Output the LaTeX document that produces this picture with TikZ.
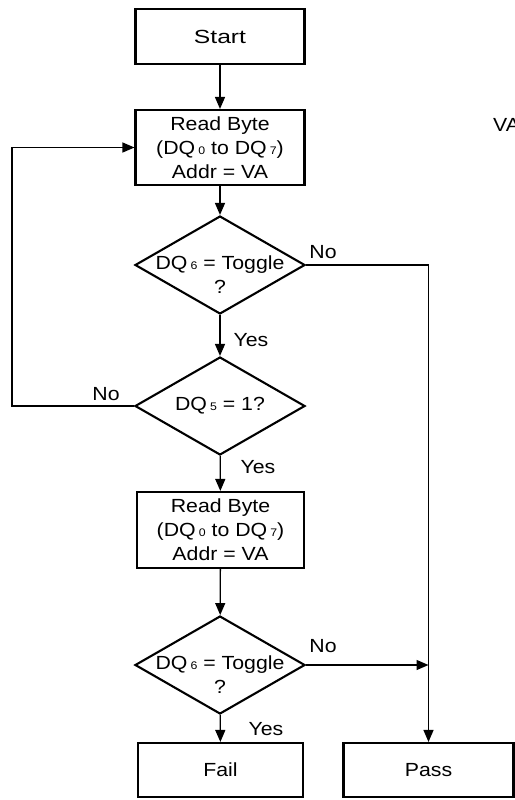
\documentclass[tikz,border=0pt]{standalone}
\usepackage{fontspec}
\setmainfont{Liberation Sans}[FakeStretch=1.12]
\newfontfamily\widefont{Liberation Sans}[FakeStretch=1.3]
\usetikzlibrary{arrows.meta,shapes.geometric}
\newcommand{\dqsub}[1]{\,{\fontsize{11pt}{11pt}\selectfont #1}}
\tikzset{
  box/.style={draw, line width=2.1pt, minimum width=169pt, minimum height=55pt, inner sep=0pt, align=center, font=\fontsize{19pt}{24pt}\selectfont},
  decision/.style={draw, diamond, line width=2.1pt, minimum width=170pt, minimum height=98pt, inner sep=0pt},
  dtext/.style={inner sep=0pt, align=center, font=\fontsize{19pt}{24pt}\selectfont},
  lbl/.style={inner sep=0pt, anchor=base, font=\fontsize{19pt}{24pt}\selectfont},
  arr/.style={line width=1.3pt, -{Triangle[length=12pt,width=10pt]}}
}

\begin{document}
\begin{tikzpicture}[x=1pt,y=-1pt]
  \useasboundingbox (0,0) rectangle (514,800);
  \node[box] (start) at (220,36.5) {\widefont Start};
  \node[box, minimum height=75pt] (read1) at (220,147.5) {Read Byte\\(DQ\dqsub{0} to DQ\dqsub{7})\\Addr = VA};
  \node[decision] (d1) at (220,265) {};
  \node[dtext] (d1t) at (220,275) {DQ\dqsub{6} = Toggle\\?};
  \node[decision] (d2) at (220,406) {};
  \node[dtext] (d2t) at (220,406) {DQ\dqsub{5} = 1?};
  \node[box, minimum width=167pt, minimum height=76pt] (read2) at (220.5,530) {Read Byte\\(DQ\dqsub{0} to DQ\dqsub{7})\\Addr = VA};
  \node[decision] (d3) at (220,665) {};
  \node[dtext] (d3t) at (220,675) {DQ\dqsub{6} = Toggle\\?};
  \node[box, minimum width=165pt, minimum height=54pt] (fail) at (220.5,770) {Fail};
  \node[box, minimum width=170pt, minimum height=54pt] (pass) at (428.5,770) {Pass};
  \node[lbl, anchor=base west] (va) at (493,131) {VA};

  \node[lbl] (no1) at (323,258) {No};
  \node[lbl] (yes1) at (251,346) {Yes};
  \node[lbl] (no2) at (106,400) {No};
  \node[lbl] (yes2) at (258,473) {Yes};
  \node[lbl] (no3) at (323,652) {No};
  \node[lbl] (yes3) at (266,735) {Yes};

  \coordinate (loop) at (12,406);
  \coordinate (join) at (d3.east -| pass);

  \draw[arr] (start) -- (read1);
  \draw[arr] (read1) -- (d1);
  \draw[arr] (d1) -- (d2);
  \draw[arr] (d2) -- (read2);
  \draw[arr] (read2) -- (d3);
  \draw[arr] (d3) -- (fail);
  \draw[arr] (d1.east) -- (d1.east -| pass) -- (pass);
  \draw[arr] (d3.east) -- (join);
  \draw[arr] (d2.west) -- (loop) |- (read1.west);
\end{tikzpicture}
\end{document}
